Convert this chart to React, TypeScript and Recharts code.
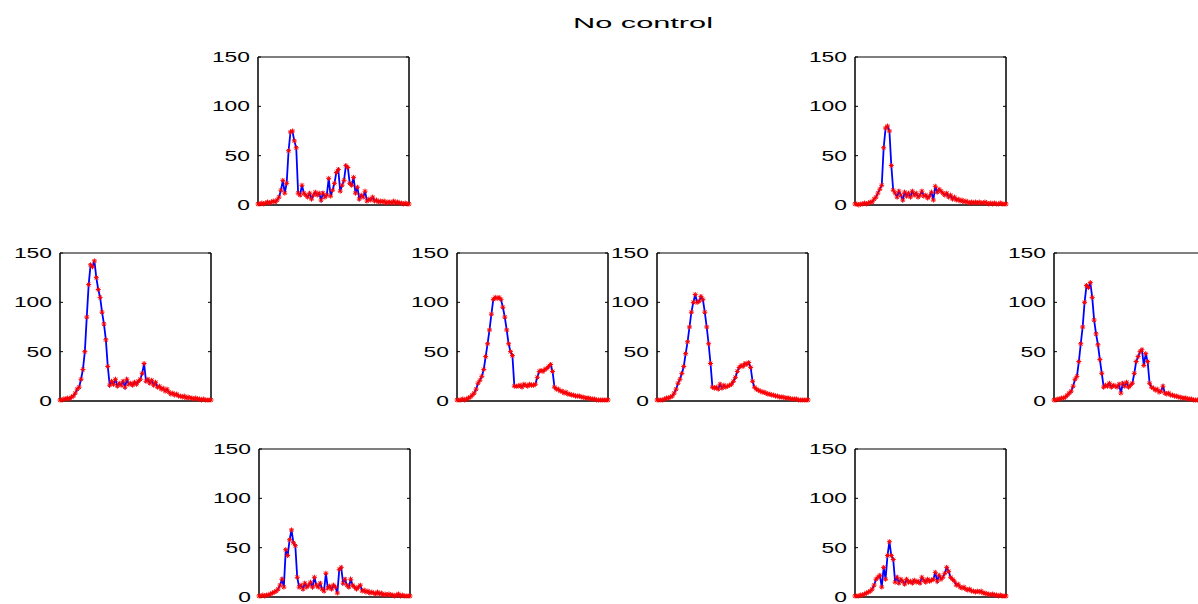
import React from 'react';
import { LineChart, Line, XAxis, YAxis, ReferenceArea } from 'recharts';

const yTicks = [0, 50, 100, 150];

const topLeft = [1, 1, 2, 1, 2, 3, 2, 3, 4, 3, 5, 8, 15, 25, 12, 22, 55, 74, 75, 65, 58, 12, 10, 20, 12, 10, 8, 12, 6, 10, 13, 10, 12, 5, 12, 8, 10, 27, 9, 15, 22, 33, 36, 14, 20, 25, 40, 38, 22, 20, 28, 12, 18, 6, 10, 8, 14, 4, 6, 5, 8, 4, 5, 3, 4, 3, 4, 2, 3, 3, 2, 4, 2, 3, 2, 2, 1, 2, 1, 1];
const topRight = [1, 1, 0, 1, 1, 2, 1, 2, 3, 3, 6, 8, 12, 16, 20, 58, 78, 80, 75, 40, 15, 12, 8, 14, 10, 5, 13, 9, 12, 8, 14, 10, 12, 8, 10, 14, 9, 10, 7, 9, 13, 5, 19, 13, 16, 14, 12, 10, 12, 8, 10, 6, 8, 5, 6, 4, 5, 3, 4, 3, 2, 3, 2, 3, 2, 3, 2, 2, 3, 2, 1, 2, 1, 2, 1, 1, 2, 1, 1, 1];
const midLeft = [1, 1, 2, 2, 3, 2, 4, 5, 8, 12, 14, 22, 32, 50, 85, 118, 138, 136, 142, 125, 113, 105, 90, 78, 62, 35, 16, 20, 17, 22, 15, 18, 16, 20, 14, 22, 17, 18, 16, 19, 17, 20, 22, 28, 38, 20, 22, 18, 21, 16, 19, 14, 15, 12, 13, 10, 12, 9, 7, 8, 6, 7, 5, 5, 4, 5, 3, 4, 3, 3, 2, 3, 2, 2, 1, 2, 1, 1, 1, 1];
const midCenterLeft = [1, 1, 1, 2, 1, 2, 3, 4, 6, 8, 12, 18, 21, 25, 32, 45, 58, 72, 88, 103, 105, 104, 105, 103, 95, 85, 72, 58, 50, 46, 15, 15, 15, 16, 14, 17, 16, 15, 17, 16, 16, 17, 24, 30, 31, 30, 32, 33, 35, 37, 30, 14, 12, 12, 10, 10, 8, 9, 7, 7, 6, 6, 5, 5, 5, 4, 4, 3, 3, 3, 2, 2, 2, 1, 1, 1, 1, 1, 1, 1];
const midCenterRight = [1, 1, 1, 1, 2, 3, 3, 4, 5, 8, 12, 18, 22, 28, 35, 48, 60, 75, 90, 100, 108, 100, 101, 106, 103, 90, 75, 58, 38, 14, 13, 14, 12, 17, 13, 16, 14, 15, 16, 17, 20, 24, 30, 34, 36, 35, 38, 37, 39, 34, 20, 14, 12, 11, 10, 9, 9, 8, 7, 7, 6, 6, 5, 5, 4, 4, 4, 3, 3, 3, 2, 2, 2, 2, 1, 1, 1, 1, 1, 1];
const midRight = [1, 1, 2, 2, 3, 3, 4, 6, 8, 10, 15, 22, 25, 40, 58, 75, 100, 117, 115, 120, 105, 82, 68, 57, 42, 28, 14, 16, 15, 18, 14, 16, 15, 14, 17, 8, 18, 15, 19, 14, 16, 18, 28, 40, 45, 50, 52, 36, 48, 40, 18, 14, 13, 11, 12, 9, 10, 15, 8, 7, 8, 6, 6, 5, 5, 4, 4, 3, 3, 3, 2, 2, 2, 1, 1, 1, 1, 1, 1, 1];
const bottomLeft = [1, 1, 2, 1, 2, 2, 3, 4, 5, 6, 8, 12, 18, 10, 48, 42, 58, 68, 55, 52, 20, 10, 12, 8, 14, 10, 12, 15, 10, 20, 12, 10, 14, 8, 6, 24, 9, 11, 8, 12, 10, 4, 28, 30, 14, 18, 12, 10, 18, 12, 10, 8, 10, 12, 6, 7, 5, 6, 4, 5, 4, 3, 5, 3, 4, 2, 3, 2, 3, 2, 2, 1, 2, 3, 1, 2, 1, 1, 1, 1];
const bottomRight = [1, 1, 1, 2, 2, 3, 4, 5, 6, 8, 12, 18, 20, 22, 10, 30, 18, 42, 56, 42, 38, 15, 20, 14, 18, 16, 13, 18, 15, 16, 14, 17, 15, 16, 14, 20, 17, 15, 18, 16, 17, 18, 25, 16, 22, 18, 20, 24, 30, 26, 20, 18, 16, 12, 13, 10, 9, 10, 8, 7, 8, 6, 6, 5, 6, 5, 6, 4, 4, 3, 3, 2, 3, 2, 2, 1, 2, 1, 1, 1];

const panels = [
  { values: topLeft, left: 258, top: 57 },
  { values: topRight, left: 855, top: 57 },
  { values: midLeft, left: 60, top: 253 },
  { values: midCenterLeft, left: 457, top: 253 },
  { values: midCenterRight, left: 657, top: 253 },
  { values: midRight, left: 1054, top: 253 },
  { values: bottomLeft, left: 259, top: 449 },
  { values: bottomRight, left: 855, top: 449 },
];

const FONT = '"Liberation Sans", Arial, Helvetica, sans-serif';
const BOX_W = 151;
const BOX_H = 148;
const AXIS_W = 50;

const YTick = ({ x, y, payload }: any) => {
  const s = String(payload.value);
  return (
    <text x={x} y={y} dy="0.36em" textAnchor="end" fontSize={14} fontFamily={FONT} fill="#000"
      textLength={s.length * 12.7} lengthAdjust="spacingAndGlyphs">
      {s}
    </text>
  );
};

const Star = (props: any) => {
  const { cx, cy, index } = props;
  if (cx == null || cy == null) return <g key={index} />;
  const r = 2.5;
  const d = 1.8;
  return (
    <path key={index} stroke="#ff0000" strokeWidth={1} fill="none"
      d={`M${cx - r},${cy}h${2 * r}M${cx},${cy - r}v${2 * r}M${cx - d},${cy - d}l${2 * d},${2 * d}M${cx - d},${cy + d}l${2 * d},${-2 * d}`} />
  );
};

const Panel = ({ values }: { values: number[] }) => {
  const data = values.map((v, i) => ({ i, v }));
  const n = values.length - 1;
  return (
    <LineChart width={AXIS_W + BOX_W + 3} height={BOX_H + 21} data={data}
      margin={{ top: 10, right: 2, bottom: 10, left: 0 }}>
      <XAxis dataKey="i" type="number" domain={[0, n]} tick={false} tickLine={false} height={1}
        axisLine={{ stroke: '#000' }} />
      <YAxis domain={[0, 150]} ticks={yTicks} width={AXIS_W} tickSize={-3} tickMargin={11}
        tick={<YTick />} axisLine={{ stroke: '#000' }} tickLine={{ stroke: '#000' }} interval={0} />
      <YAxis yAxisId="r" orientation="right" domain={[0, 150]} ticks={yTicks} width={1} tickSize={-3}
        tick={() => <g />} axisLine={{ stroke: '#000' }} tickLine={{ stroke: '#000' }} interval={0} />
      <ReferenceArea x1={0} x2={n} y1={0} y2={150} fill="none" fillOpacity={0} stroke="#000"
        strokeWidth={1} ifOverflow="visible" />
      <Line dataKey="v" stroke="none" dot={Star} activeDot={false} isAnimationActive={false} />
      <Line dataKey="v" yAxisId="r" stroke="#0000ff" strokeWidth={1.8} dot={false} activeDot={false} isAnimationActive={false} />
    </LineChart>
  );
};

export default function App() {
  return (
    <div style={{ position: 'absolute', left: 0, top: 0, width: 1198, height: 604, overflow: 'hidden', background: '#fff' }}>
      <svg width={1198} height={40} style={{ position: 'absolute', left: 0, top: 0 }}>
        <text x={643} y={28} textAnchor="middle" fontSize={15} fontFamily={FONT} fill="#000"
          textLength={140} lengthAdjust="spacingAndGlyphs">
          No control
        </text>
      </svg>
      {panels.map((p, k) => (
        <div key={k} style={{ position: 'absolute', left: p.left - AXIS_W, top: p.top - 10 }}>
          <Panel values={p.values} />
        </div>
      ))}
    </div>
  );
}
